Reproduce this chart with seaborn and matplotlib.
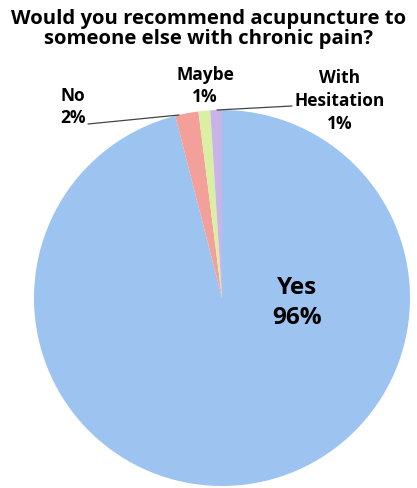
import matplotlib
matplotlib.use("Agg")
import matplotlib.pyplot as plt
import seaborn as sns

categories = ["Yes", "No", "Maybe", "With\nHesitation"]
values = [96, 2, 1, 1]
pct_labels = ["96%", "2%", "1%", "1%"]
colors = ["#9DC3F1", "#F3A09B", "#D9F0A2", "#C8B4E8"]

sns.set_theme(style="white")
plt.rcParams['font.family'] = ['Open Sans', 'DejaVu Sans']
plt.rcParams['text.color'] = 'black'

W, H = 417, 488
fig = plt.figure(figsize=(W / 100, H / 100), dpi=100)
ax = fig.add_axes([0, 0, 1, 1])

cx, cy, r = 222, H - 298, 188
wedges, _ = ax.pie(values, colors=colors, startangle=90, counterclock=False,
                   center=(cx, cy), radius=r, frame=True,
                   wedgeprops=dict(linewidth=0))
ax.set_xlim(0, W)
ax.set_ylim(0, H)
ax.axis("off")

ax.text(W / 2, H - 29, "Would you recommend acupuncture to\nsomeone else with chronic pain?",
        ha="center", va="center", fontsize=14.6, fontweight="bold", linespacing=1.0)

ax.text(297, H - 303, f"{categories[0]}\n{pct_labels[0]}", ha="center", va="center",
        fontsize=17.5, fontweight="bold", linespacing=1.3)
ax.text(73, H - 107, f"{categories[1]}\n{pct_labels[1]}", ha="center", va="center",
        fontsize=12.5, fontweight="bold", linespacing=1.35)
ax.text(205, H - 86, f"{categories[2]}\n{pct_labels[2]}", ha="center", va="center",
        fontsize=12.5, fontweight="bold", linespacing=1.35)
ax.text(340, H - 101, f"{categories[3]}\n{pct_labels[3]}", ha="center", va="center",
        fontsize=12.5, fontweight="bold", linespacing=1.35)

ax.plot([88, 179], [H - 124, H - 115], color="#444444", lw=0.9)
ax.plot([217, 292], [H - 110, H - 106], color="#444444", lw=0.9)

fig.savefig("out.png", dpi=100, facecolor="white")
